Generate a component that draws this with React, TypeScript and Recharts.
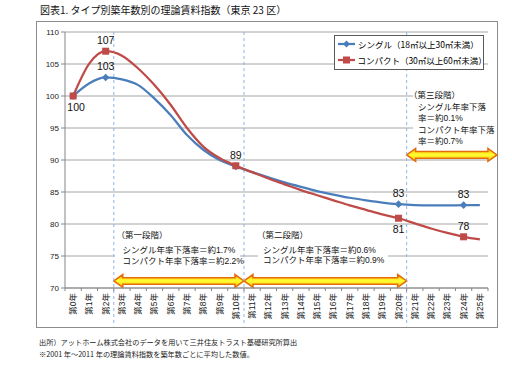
import React from "react";
import {
  LineChart,
  Line,
  XAxis,
  YAxis,
  CartesianGrid,
  ReferenceLine,
  ReferenceArea,
  LabelList,
  Legend,
} from "recharts";

// 築年数（カテゴリ）
const xLabels = [
  "第0年", "第1年", "第2年", "第3年", "第4年", "第5年", "第6年", "第7年", "第8年",
  "第9年", "第10年", "第11年", "第12年", "第13年", "第14年", "第15年", "第16年",
  "第17年", "第18年", "第19年", "第20年", "第21年", "第22年", "第23年", "第24年", "第25年",
];

// 理論賃料指数
const single = [
  100, 102.0, 102.9, 102.6, 101.7, 99.6, 97.0, 93.9, 91.6, 90.0, 89.0, 88.1, 87.3,
  86.5, 85.8, 85.15, 84.6, 84.1, 83.7, 83.35, 83.1, 82.95, 82.9, 82.9, 82.95, 82.95,
];
const compact = [
  100, 105.1, 107.0, 106.3, 104.3, 101.7, 98.6, 95.0, 92.1, 90.3, 89.1, 88.1, 87.1,
  86.2, 85.3, 84.5, 83.7, 82.9, 82.2, 81.5, 80.9, 80.1, 79.3, 78.6, 78.0, 77.6,
];

const markedYears = [0, 2, 10, 20, 24];
const singleLabels: Record<number, string> = { 2: "top", 10: "top", 20: "top", 24: "top" };
const compactLabels: Record<number, string> = { 0: "bottom", 2: "top", 20: "bottom", 24: "top" };

const yTicks = [70, 75, 80, 85, 90, 95, 100, 105, 110];
const seriesNames = ["シングル（18㎡以上30㎡未満）", "コンパクト（30㎡以上60㎡未満）"];

// 段階の境界（カテゴリ間）
const phaseBounds = [2.5, 10.5, 20.5];
const phaseNotes = [
  ["（第一段階）", "シングル年率下落率＝約1.7%", "コンパクト年率下落率＝約2.2%"],
  ["（第二段階）", "シングル年率下落率＝約0.6%", "コンパクト年率下落率＝約0.9%"],
  ["（第三段階）", "シングル年率下落", "率＝約0.1%", "コンパクト年率下落", "率＝約0.7%"],
];

const data = xLabels.map((_, i) => ({ year: i, single: single[i], compact: compact[i] }));

const BLUE = "#4A7EBB";
const RED = "#BE4B48";
const GRID = "#A6A6A6";
const AXIS = "#868686";
const DASH = "#8EB4E3";
const JP = '"Noto Sans CJK JP", sans-serif';
const NUM = '"Liberation Sans", "Noto Sans CJK JP", sans-serif';

const W = 512;
const H = 369;
const M = { top: 32, right: 24, left: 35, bottom: 41 };
const Y_AXIS_W = 30;
const X_AXIS_H = 40;
const PLOT_LEFT = M.left + Y_AXIS_W;
const PLOT_RIGHT = W - M.right;
const PLOT_BOTTOM = H - M.bottom - X_AXIS_H;
const BAND = (PLOT_RIGHT - PLOT_LEFT) / xLabels.length;

const XTick = (props: any) => {
  const { x, payload } = props;
  const i = payload.value;
  return (
    <g>
      <line x1={x - BAND / 2} x2={x - BAND / 2} y1={PLOT_BOTTOM} y2={PLOT_BOTTOM + 3} stroke={AXIS} />
      {i === xLabels.length - 1 && (
        <line x1={x + BAND / 2} x2={x + BAND / 2} y1={PLOT_BOTTOM} y2={PLOT_BOTTOM + 3} stroke={AXIS} />
      )}
      <text
        transform={`translate(${x},${PLOT_BOTTOM + 5}) rotate(-90)`}
        textAnchor="end"
        dominantBaseline="central"
        fontSize={8.5}
        fontFamily={NUM}
        fill="#222"
      >
        {xLabels[i]}
      </text>
    </g>
  );
};

const diamondDot = (props: any) => {
  const { cx, cy, index } = props;
  if (!markedYears.includes(index)) return <g key={`sd-${index}`} />;
  const r = 3.8;
  return (
    <path
      key={`sd-${index}`}
      d={`M${cx},${cy - r}L${cx + r},${cy}L${cx},${cy + r}L${cx - r},${cy}Z`}
      fill={BLUE}
    />
  );
};

const squareDot = (props: any) => {
  const { cx, cy, index } = props;
  if (!markedYears.includes(index)) return <g key={`cd-${index}`} />;
  return <rect key={`cd-${index}`} x={cx - 3.5} y={cy - 3.5} width={7} height={7} fill={RED} />;
};

const makeLabel = (positions: Record<number, string>) => (props: any) => {
  const { x, y, value, index } = props;
  const pos = positions[index];
  if (!pos) return null;
  return (
    <text
      x={x + (pos === "bottom" && index === 0 ? 3 : 0)}
      y={pos === "top" ? y - 7 : y + 15}
      textAnchor="middle"
      fontSize={10.5}
      fontFamily={NUM}
      fill="#111"
    >
      {Math.round(value)}
    </text>
  );
};

const DoubleArrow = (props: any) => {
  const { x, y, width, height } = props;
  const cy = y + height / 2;
  const head = 9;
  const half = 3.3;
  const pts = [
    [x, cy],
    [x + head, y],
    [x + head, cy - half],
    [x + width - head, cy - half],
    [x + width - head, y],
    [x + width, cy],
    [x + width - head, y + height],
    [x + width - head, cy + half],
    [x + head, cy + half],
    [x + head, y + height],
  ]
    .map((p) => p.join(","))
    .join(" ");
  const id = `arrow-${Math.round(x)}-${Math.round(y)}`;
  return (
    <g>
      <defs>
        <linearGradient id={id} x1="0" y1="0" x2="0" y2="1">
          <stop offset="0%" stopColor="#FFC000" />
          <stop offset="50%" stopColor="#FFFF33" />
          <stop offset="100%" stopColor="#FFC000" />
        </linearGradient>
      </defs>
      <polygon points={pts} fill={`url(#${id})`} stroke="#E46C0A" strokeWidth={1.5} />
    </g>
  );
};

const seriesColors = [BLUE, RED];

const renderLegend = () => (
  <div
    style={{
      width: 150,
      height: 35,
      border: "1px solid #595959",
      background: "#fff",
      boxSizing: "border-box",
      paddingLeft: 2,
    }}
  >
    {seriesNames.map((name, i) => {
      const color = seriesColors[i];
      return (
        <div key={name} style={{ display: "flex", alignItems: "center", height: 16 }}>
          <svg width={21} height={10}>
            <line x1={1} x2={18} y1={5} y2={5} stroke={color} strokeWidth={2.25} />
            {i === 0 ? (
              <path d="M9.5,1.5L13,5L9.5,8.5L6,5Z" fill={color} />
            ) : (
              <rect x={6} y={1.5} width={7} height={7} fill={color} />
            )}
          </svg>
          <span style={{ fontSize: 8.5, fontFamily: JP, color: "#000", lineHeight: "16px" }}>
            {name}
          </span>
        </div>
      );
    })}
  </div>
);

const noteBoxes = [
  { left: 115, top: 227, width: 125, height: 42, x: 122.5, parenX: 116.5, centers: [235, 250, 261] },
  { left: 258, top: 227, width: 130, height: 42, x: 263, parenX: 257, centers: [235, 249.5, 260] },
  { left: 413, top: 88, width: 80, height: 59, x: 418, parenX: 409, centers: [95, 106.5, 118, 129.5, 141] },
];

const App: React.FC = () => {
  return (
    <div style={{ position: "absolute", left: 0, top: 0, width: W, height: H, background: "#fff" }}>
      <div
        style={{
          position: "absolute",
          left: 36,
          top: 21,
          width: 462,
          height: 307,
          border: "1px solid #8C8C8C",
          boxSizing: "border-box",
        }}
      />
      <div
        style={{
          position: "absolute",
          left: 40,
          top: 3,
          fontSize: 10,
          lineHeight: "14px",
          fontFamily: JP,
          color: "#111",
          whiteSpace: "nowrap",
        }}
      >
        図表1. タイプ別築年数別の理論賃料指数（東京 23 区）
      </div>
      <div style={{ position: "absolute", left: 0, top: 0 }}>
        <LineChart width={W} height={H} data={data} margin={M}>
          <CartesianGrid vertical={false} stroke={GRID} strokeWidth={1} />
          <XAxis
            type="number"
            dataKey="year"
            domain={[-0.5, 25.5]}
            ticks={xLabels.map((_, i) => i)}
            interval={0}
            height={X_AXIS_H}
            axisLine={{ stroke: AXIS }}
            tickLine={false}
            tick={<XTick />}
          />
          <YAxis
            domain={[70, 110]}
            ticks={yTicks}
            width={Y_AXIS_W}
            axisLine={{ stroke: AXIS }}
            tickLine={{ stroke: AXIS }}
            tickSize={4}
            tickMargin={2}
            tick={{ fontSize: 8, fontFamily: NUM, fill: "#222" }}
          />
          {phaseBounds.map((b) => (
            <ReferenceLine
              key={`b-${b}`}
              segment={[
                { x: b, y: 110 },
                { x: b, y: 64 },
              ]}
              stroke={DASH}
              strokeDasharray="3 3"
              ifOverflow="visible"
            />
          ))}
          <ReferenceArea x1={2.5} x2={10.5} y1={70.1} y2={72.1} ifOverflow="visible" shape={DoubleArrow} />
          <ReferenceArea x1={10.5} x2={20.5} y1={70.1} y2={72.1} ifOverflow="visible" shape={DoubleArrow} />
          <ReferenceArea x1={20.5} x2={26.05} y1={89.8} y2={91.8} ifOverflow="visible" shape={DoubleArrow} />
          <Line
            type="monotone"
            dataKey="single"
            name={seriesNames[0]}
            stroke={BLUE}
            strokeWidth={2.25}
            dot={diamondDot}
            activeDot={false}
            isAnimationActive={false}
          >
            <LabelList dataKey="single" content={makeLabel(singleLabels)} />
          </Line>
          <Line
            type="monotone"
            dataKey="compact"
            name={seriesNames[1]}
            stroke={RED}
            strokeWidth={2.25}
            dot={squareDot}
            activeDot={false}
            isAnimationActive={false}
          >
            <LabelList dataKey="compact" content={makeLabel(compactLabels)} />
          </Line>
          <Legend
            layout="horizontal"
            align="center"
            verticalAlign="middle"
            content={renderLegend}
            wrapperStyle={{ left: 334, top: 35, width: 150, height: 35 }}
          />
        </LineChart>
      </div>
      {noteBoxes.map((box, bi) => (
        <div
          key={`note-${bi}`}
          style={{
            position: "absolute",
            left: box.left,
            top: box.top,
            width: box.width,
            height: box.height,
            background: "#fff",
          }}
        >
          {phaseNotes[bi].map((line, li) => (
            <div
              key={li}
              style={{
                position: "absolute",
                left: (li === 0 ? box.parenX : box.x) - box.left,
                top: box.centers[li] - 6 - box.top,
                height: 12,
                lineHeight: "12px",
                fontSize: 8.5,
                fontFamily: NUM,
                color: "#111",
                whiteSpace: "nowrap",
              }}
            >
              {line}
            </div>
          ))}
        </div>
      ))}
      <div
        style={{
          position: "absolute",
          left: 39,
          top: 336,
          fontSize: 7.2,
          lineHeight: "12px",
          fontFamily: JP,
          color: "#222",
          whiteSpace: "nowrap",
        }}
      >
        <div>出所）アットホーム株式会社のデータを用いて三井住友トラスト基礎研究所算出</div>
        <div>※2001 年～2011 年の理論賃料指数を築年数ごとに平均した数値。</div>
      </div>
    </div>
  );
};

export default App;
